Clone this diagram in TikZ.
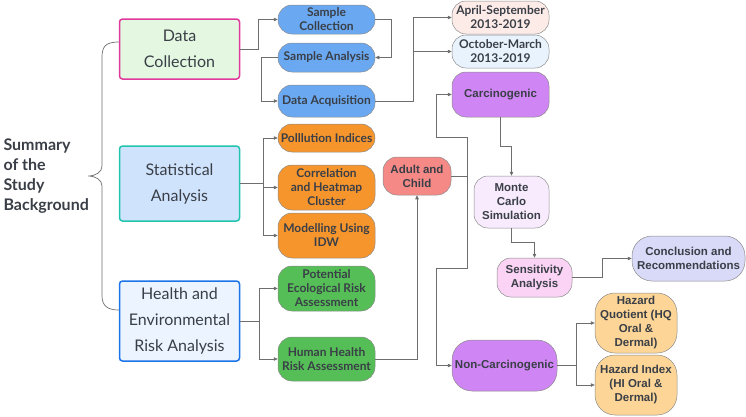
\documentclass[tikz,border=0pt]{standalone}
\usepackage{fontspec}
\setmainfont{Lato}
\newfontfamily\arialfont{Liberation Sans}
\usetikzlibrary{positioning,arrows.meta}
\definecolor{txt}{HTML}{3A3F47}
\definecolor{linec}{HTML}{6E6E6E}
\definecolor{pillline}{HTML}{8C8C8C}
\definecolor{dcfill}{HTML}{E3F7E1}
\definecolor{dcdraw}{HTML}{E0399B}
\definecolor{safill}{HTML}{D0E3FC}
\definecolor{sadraw}{HTML}{21C4AE}
\definecolor{hefill}{HTML}{EBF4FF}
\definecolor{hedraw}{HTML}{1C74E9}
\definecolor{bluepill}{HTML}{6AA9F1}
\definecolor{orangepill}{HTML}{F7952D}
\definecolor{greenpill}{HTML}{55BE56}
\definecolor{salmon}{HTML}{F58986}
\definecolor{aprfill}{HTML}{FDEBE7}
\definecolor{octfill}{HTML}{E9F3FD}
\definecolor{purplepill}{HTML}{CF86F4}
\definecolor{mcfill}{HTML}{F8EBFD}
\definecolor{sefill}{HTML}{FAD3F5}
\definecolor{crfill}{HTML}{D9D9F8}
\definecolor{hzfill}{HTML}{FDD596}
\tikzset{
	mainbox/.style={draw, line width=1.5pt, rounded corners=3pt, minimum width=120pt, align=center, text=txt, font=\fontsize{16}{26}\selectfont},
	pill/.style={draw=pillline, line width=0.5pt, rounded corners=14pt, minimum width=97pt, inner sep=1pt, align=center, text=txt, font=\fontsize{12}{14}\selectfont\bfseries},
	apill/.style={pill, font=\arialfont\fontsize{11.5}{14}\selectfont\bfseries},
	link/.style={draw=linec, line width=0.7pt},
	conn/.style={draw=linec, line width=0.7pt, -{Triangle[length=4pt,width=3.5pt]}}
}

\begin{document}
\begin{tikzpicture}[x=1pt, y=-1pt]
\useasboundingbox (0,0) rectangle (746,416);

\node[anchor=west, align=left, text=txt, font=\fontsize{16}{20}\selectfont\bfseries] (SUM) at (0,176) {Summary\\of the\\Study\\Background};

    \node[mainbox, draw=dcdraw, fill=dcfill, minimum height=60pt] (DC) at (179.5,49) {Data\\Collection};
    \node[mainbox, draw=sadraw, fill=safill, minimum height=75pt] (SA) at (179.5,183.5) {Statistical\\Analysis};
    \node[mainbox, draw=hedraw, fill=hefill, minimum height=80pt] (HE) at (179.5,321) {Health and\\Environmental\\Risk Analysis};

    \node[pill, fill=bluepill, minimum height=29pt] (SC) at (326.5,19.5) {Sample\\Collection};
    \node[pill, fill=bluepill, minimum height=29pt] (SN) at (326.5,57.5) {Sample Analysis};
    \node[pill, fill=bluepill, minimum height=32pt] (DA) at (326.5,101) {Data Acquisition};

    \node[pill, fill=orangepill, minimum height=28pt] (PI) at (326.5,138) {Polllution Indices};
    \node[pill, fill=orangepill, minimum height=45pt] (CH) at (326.5,187.5) {Correlation\\and Heatmap\\Cluster};
    \node[pill, fill=orangepill, minimum height=45pt] (MI) at (326.5,235.5) {Modelling Using\\IDW};

    \node[pill, fill=greenpill, minimum height=45pt] (PE) at (326.5,288.5) {Potential\\Ecological Risk\\Assessment};
    \node[pill, fill=greenpill, minimum height=44pt] (HH) at (326.5,359) {Human Health\\Risk Assessment};

    \node[apill, fill=salmon, minimum width=68pt, minimum height=38pt] (AC) at (417,176) {Adult and\\Child};

    \node[pill, fill=aprfill, minimum height=33pt] (AP) at (500.5,17.5) {April-September\\2013-2019};
    \node[pill, fill=octfill, minimum height=33pt] (OM) at (500.5,51.5) {October-March\\2013-2019};
    \node[apill, fill=purplepill, minimum height=45pt] (CA) at (500.5,94.5) {Carcinogenic};
    \node[apill, fill=mcfill, minimum width=75pt, minimum height=52pt] (MC) at (511.5,202) {Monte\\Carlo\\Simulation};
    \node[apill, fill=sefill, minimum width=75pt, minimum height=39pt] (SE) at (534.5,277.5) {Sensitivity\\Analysis};
    \node[apill, fill=crfill, minimum width=113pt, minimum height=45pt, rounded corners=20pt] (CR) at (688.5,258.5) {Conclusion and\\Recommendations};
    \node[apill, fill=purplepill, minimum width=105pt, minimum height=51pt, rounded corners=20pt] (NC) at (504.5,365.5) {Non-Carcinogenic};
    \node[apill, fill=hzfill, minimum width=82pt, minimum height=60pt, rounded corners=20pt] (HQ) at (636,323) {Hazard\\Quotient (HQ\\Oral \&\\Dermal)};
    \node[apill, fill=hzfill, minimum width=82pt, minimum height=60pt, rounded corners=20pt] (HI) at (636,385) {Hazard Index\\(HI Oral \&\\Dermal)};

    % brace
    \draw[link] ([yshift=7pt]DC.west) .. controls (104,42) and (102,48) .. (102,58) -- (102,166)
        .. controls (102,172) and (96,176) .. (88,176)
        .. controls (96,176) and (102,180) .. (102,186) -- (102,296)
        .. controls (102,306) and (108,310) .. ([yshift=11pt]HE.west);

    \draw[conn] (DC.east) -- ++(18,0) |- (SC.west);
    \draw[conn] (SC.east) -- ++(16,0) |- (SN.east);
    \draw[conn] (SN.west) -- ++(-16,0) |- (DA.west);
    \draw[conn] (DA.east) -- ++(38,0) |- (AP.west);
    \draw[conn] (DA.east) -- ++(38,0) |- (OM.west);

    \draw[conn] (SA.east) -- ++(23,0) |- (PI.west);
    \draw[conn] (SA.east) -- ++(23,0) |- (CH.west);
    \draw[conn] (SA.east) -- ++(23,0) |- (MI.west);

    \draw[conn] (HE.east) -- ++(19,0) |- (PE.west);
    \draw[conn] (HE.east) -- ++(19,0) |- (HH.west);

    \draw[conn] (HH.east) -| (AC.south);
    \draw[conn] (AC.east) -| (467,137) -- (436,137) |- (CA.west);
    \draw[conn] (AC.east) -| (467,268) -- (436,268) |- (NC.west);

    \draw[conn] (CA.south) -- ++(0,29) -| (MC.north);
    \draw[conn] (MC.south) -- ++(0,14) -| (SE.north);
    \draw[conn] (SE.east) -- ++(30,0) |- (CR.west);

    \draw[conn] (NC.east) -- ++(19,0) |- (HQ.west);
    \draw[conn] (NC.east) -- ++(19,0) |- (HI.west);
\end{tikzpicture}
\end{document}
